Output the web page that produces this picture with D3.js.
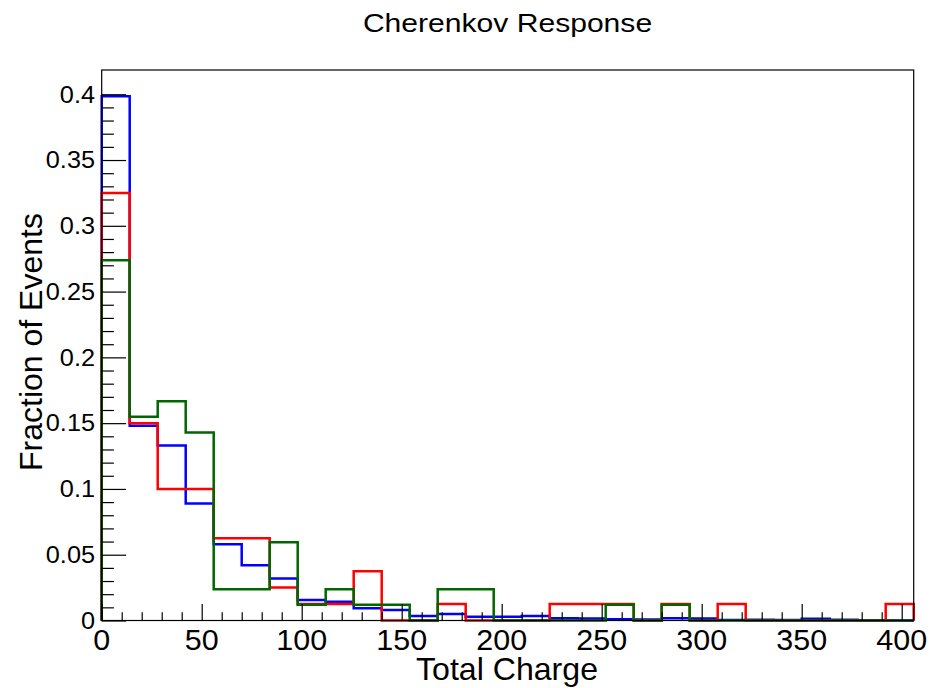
<!DOCTYPE html>
<html>
<head>
<meta charset="utf-8">
<script src="https://cdn.jsdelivr.net/npm/d3@7"></script>
<style>
  html, body { margin: 0; padding: 0; background: #fff; }
  svg { display: block; }
  text { font-family: "Liberation Sans", Arial, Helvetica, sans-serif; fill: #000; }
</style>
</head>
<body>
<svg id="chart" width="944" height="688"></svg>
<script>
// ---- data ----
const binWidth = 14;
const nBins = 29;
const binEdges = d3.range(nBins + 1).map(i => i * binWidth);

const blueValues = [0.3985, 0.148, 0.133, 0.089, 0.058, 0.042, 0.032, 0.0156, 0.0143, 0.0093,
  0.008, 0.0034, 0.0049, 0.0029, 0.0029, 0.0034, 0.0017, 0.0015, 0.001, 0.0008,
  0.0017, 0.0015, 0.0003, 0.0005, 0.0004, 0.0014, 0.0005, 0.0002, 0.0];
const redValues = [0.325, 0.15, 0.1, 0.1, 0.0625, 0.0625, 0.025, 0.0125, 0.0125, 0.0375,
  0, 0, 0.0125, 0, 0, 0, 0.0125, 0.0125, 0.0125, 0,
  0.0125, 0, 0.0125, 0, 0, 0, 0, 0, 0.0125];
const greenValues = [0.2738, 0.1548, 0.1667, 0.1429, 0.0238, 0.0238, 0.0595, 0.0119, 0.0238, 0.0119,
  0.0119, 0, 0.0238, 0.0238, 0, 0, 0, 0, 0.0119, 0,
  0.0119, 0, 0, 0, 0, 0, 0, 0, 0];

const xTickValues = [0, 50, 100, 150, 200, 250, 300, 350, 400];
const yTickValues = [0, 0.05, 0.1, 0.15, 0.2, 0.25, 0.3, 0.35, 0.4];
const yTickLabels = ["0", "0.05", "0.1", "0.15", "0.2", "0.25", "0.3", "0.35", "0.4"];

const titleText = "Cherenkov Response";
const xTitle = "Total Charge";
const yTitle = "Fraction of Events";

// ---- layout ----
const L = 101.7, R = 913.7, T = 70, B = 620.5;
const xMax = binEdges[binEdges.length - 1];
const yMax = d3.max(blueValues.concat(redValues, greenValues)) * 1.05;

const x = d3.scaleLinear().domain([0, xMax]).range([L, R]);
const y = d3.scaleLinear().domain([0, yMax]).range([B, T]);

const svg = d3.select("#chart");

function stretchedText(parent, px, py, str, size, anchor, sx, rot) {
  const g = parent.append("g").attr("transform", `translate(${px},${py}) rotate(${rot || 0})`);
  g.append("text")
    .attr("transform", `scale(${sx},1)`)
    .attr("text-anchor", anchor)
    .style("font-size", size + "px")
    .text(str);
  return g;
}

// histograms
function stepPath(values) {
  const p = d3.path();
  p.moveTo(x(binEdges[0]), y(0));
  values.forEach((v, i) => {
    p.lineTo(x(binEdges[i]), y(v));
    p.lineTo(x(binEdges[i + 1]), y(v));
  });
  p.lineTo(x(binEdges[values.length]), y(0));
  return p.toString();
}

const series = [
  { values: blueValues, color: "#0000ff" },
  { values: redValues, color: "#ff0000" },
  { values: greenValues, color: "#006600" }
];
svg.append("g").selectAll("path").data(series).join("path")
  .attr("d", d => stepPath(d.values))
  .attr("fill", "none")
  .attr("stroke", d => d.color)
  .attr("stroke-width", 2.5)
  .attr("stroke-linejoin", "miter");

// frame
svg.append("rect")
  .attr("x", L).attr("y", T).attr("width", R - L).attr("height", B - T)
  .attr("fill", "none").attr("stroke", "#000").attr("stroke-width", 1.2);

// x axis ticks (inside, pointing up)
const xMajorLen = 16.5, xMinorLen = 8.3;
const xAxis = d3.axisBottom(x)
  .tickValues(d3.range(0, xMax + 0.001, 10))
  .tickSize(0)
  .tickFormat("");
const xg = svg.append("g").attr("transform", `translate(0,${B})`).call(xAxis);
xg.select(".domain").remove();
xg.selectAll(".tick line")
  .attr("y2", d => (d % 50 === 0) ? -xMajorLen : -xMinorLen)
  .attr("stroke", "#000").attr("stroke-width", 1.2);

// y axis ticks (inside, pointing right)
const yMajorLen = 24.4, yMinorLen = 12.2;
const yMinor = d3.range(0, 41).map(i => i / 100).filter(v => v <= yMax);
const yAxis = d3.axisLeft(y).tickValues(yMinor).tickSize(0).tickFormat("");
const yg = svg.append("g").attr("transform", `translate(${L},0)`).call(yAxis);
yg.select(".domain").remove();
yg.selectAll(".tick line")
  .attr("x2", (d, i) => (i % 5 === 0) ? yMajorLen : yMinorLen)
  .attr("stroke", "#000").attr("stroke-width", 1.2);

// tick labels
xTickValues.forEach(v => {
  stretchedText(svg, x(v), 650, String(v), 29, "middle", 1.05);
});
yTickValues.forEach((v, i) => {
  stretchedText(svg, 95, y(v) + 8.3, yTickLabels[i], 23, "end", 1.1);
});

// titles
stretchedText(svg, 507.5, 32, titleText, 25.5, "middle", 1.18);
stretchedText(svg, 507, 680, xTitle, 31.5, "middle", 1.02);
stretchedText(svg, 42, 342, yTitle, 32, "middle", 1.0, -90);
</script>
</body>
</html>
